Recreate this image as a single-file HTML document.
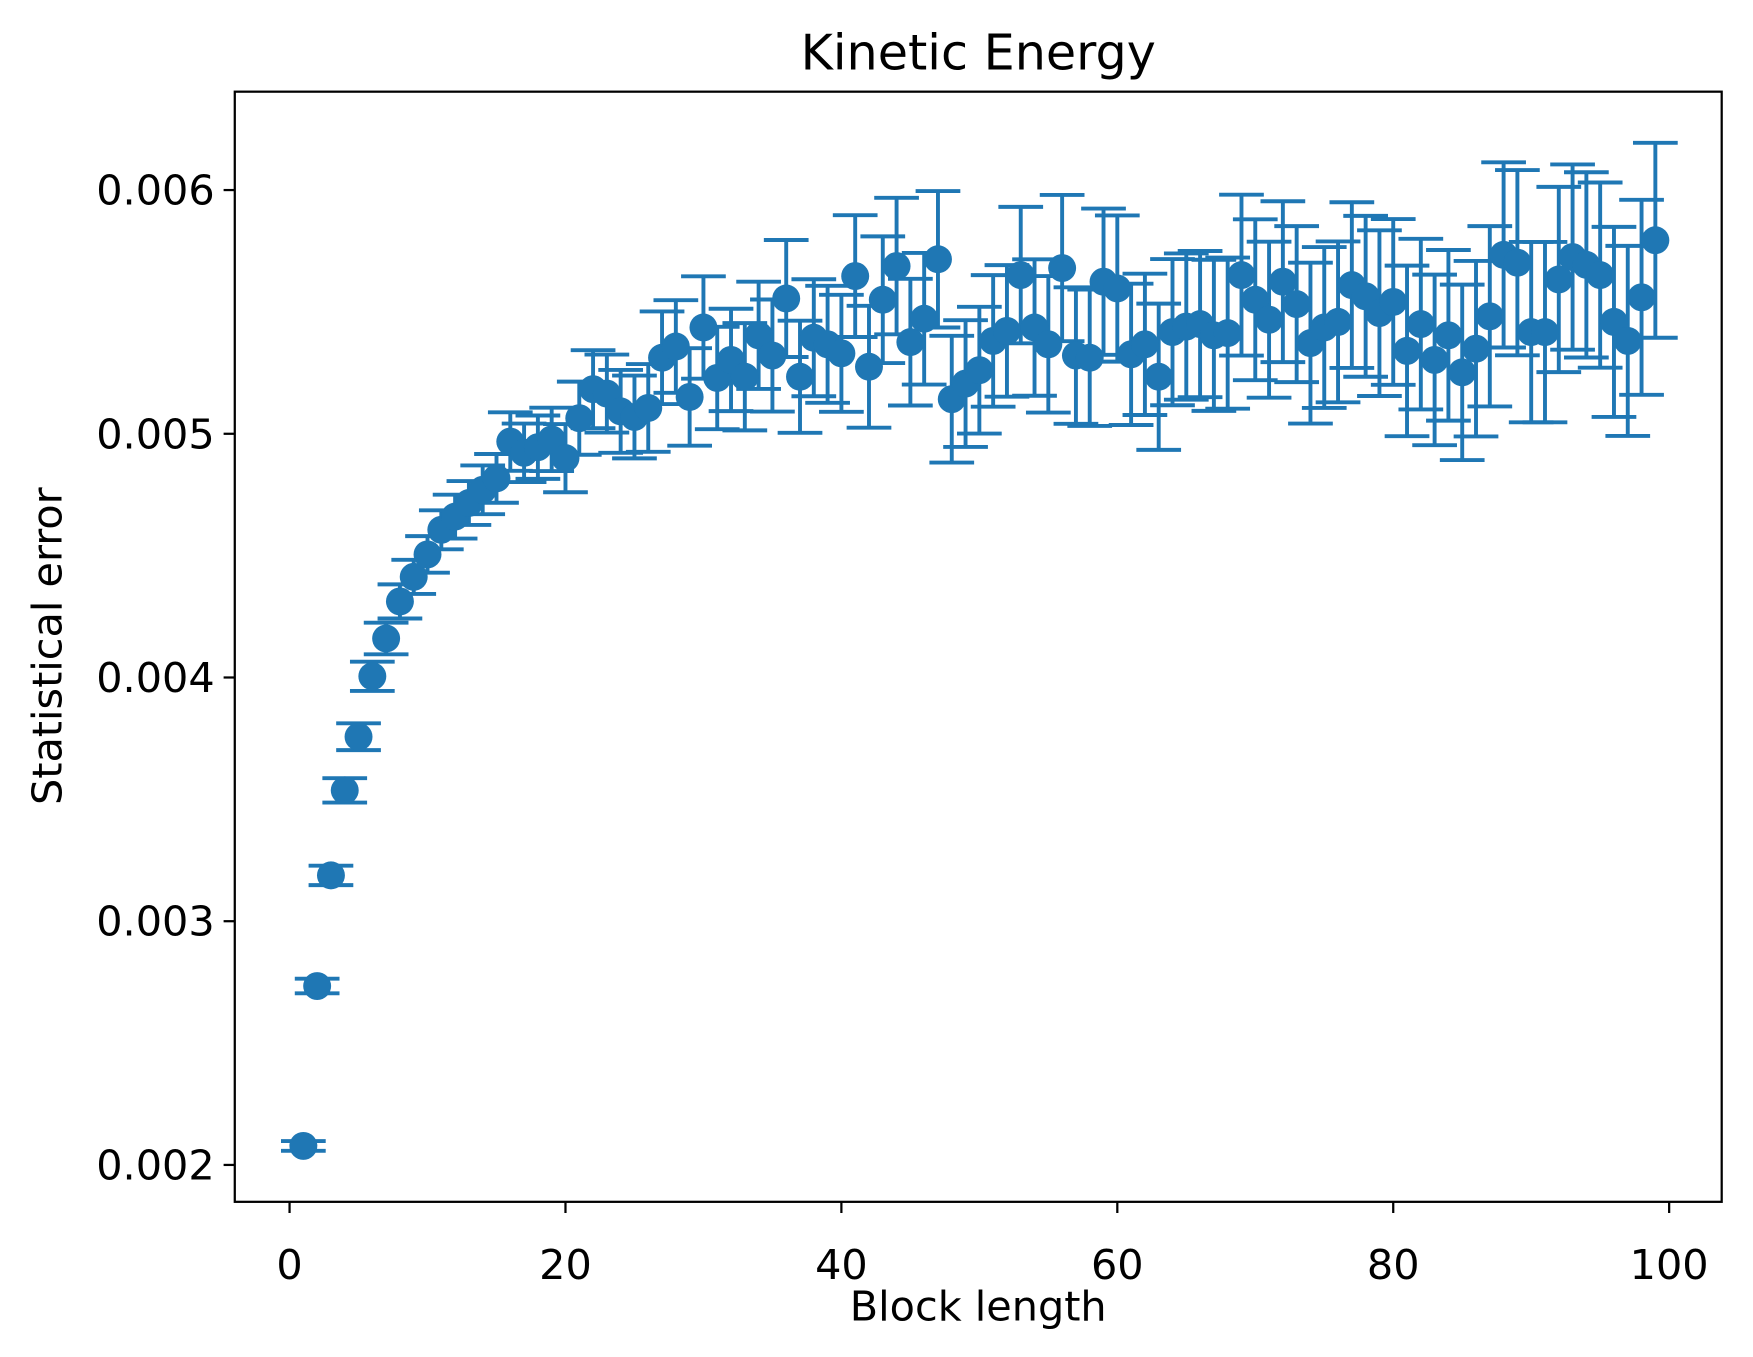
<!DOCTYPE html>
<html><head><meta charset="utf-8"><style>
html,body{margin:0;padding:0;background:#fff;}
svg{display:block;font-family:"DejaVu Sans","Liberation Sans",sans-serif;}
</style></head><body>
<svg id="chart" width="1753" height="1357" viewBox="0 0 1568 1213.8" preserveAspectRatio="none" xmlns="http://www.w3.org/2000/svg">
<rect width="1568" height="1214" fill="#fff"/>
<text x="875" y="62" text-anchor="middle" font-size="44">Kinetic Energy</text>
<text x="875" y="1181" text-anchor="middle" font-size="37">Block length</text>
<text transform="translate(55,578) rotate(-90)" text-anchor="middle" font-size="37">Statistical error</text>
<g id="marks"></g>
<g id="axes"></g>
</svg>
<script>
const blockLengths = Array.from({length:99},(_,i)=>i+1);
const errorValues = [0.002078,0.002734,0.003188,0.003537,0.003757,0.004005,0.00416,0.004312,0.004413,0.004505,
0.004606,0.00466,0.004716,0.00477,0.004817,0.004968,0.004922,0.004945,0.004977,0.0049,
0.005064,0.005183,0.005165,0.005092,0.005069,0.005106,0.005312,0.005358,0.005151,0.005436,
0.005229,0.005303,0.005234,0.005404,0.005321,0.005555,0.005234,0.005394,0.005367,0.00533,
0.005647,0.005275,0.00555,0.005688,0.005376,0.005472,0.005716,0.005142,0.005206,0.005261,
0.005381,0.005422,0.005651,0.005436,0.005367,0.00568,0.005321,0.005312,0.005624,0.005596,
0.005326,0.005367,0.005234,0.005417,0.00544,0.00545,0.005404,0.005413,0.005651,0.00555,
0.005468,0.005624,0.005532,0.005372,0.005436,0.005459,0.00561,0.005564,0.005495,0.005541,
0.00534,0.00545,0.005303,0.005404,0.005252,0.005349,0.005482,0.005734,0.005702,0.005417,
0.005417,0.005633,0.005725,0.005693,0.005651,0.005459,0.005381,0.00556,0.005794];
const errorBars = [0.00002,0.00003,0.00004,0.00005,0.000055,0.00006,0.000065,0.00007,0.00007,0.000075,
0.00008,0.00009,0.00009,0.0001,0.0001,0.00012,0.00012,0.00013,0.00013,0.00014,
0.00015,0.00016,0.00016,0.00017,0.00017,0.00018,0.00019,0.00019,0.0002,0.00021,
0.00021,0.00021,0.00022,0.00022,0.00023,0.00024,0.00023,0.00024,0.00024,0.00024,
0.00025,0.00025,0.00026,0.00028,0.00026,0.00027,0.00028,0.00026,0.00026,0.00026,
0.00027,0.00027,0.00028,0.00028,0.00028,0.0003,0.00028,0.00028,0.0003,0.0003,
0.00029,0.00029,0.0003,0.0003,0.0003,0.0003,0.00031,0.00031,0.00033,0.00033,
0.00032,0.00033,0.00032,0.00033,0.00033,0.00033,0.00034,0.00033,0.00034,0.00034,
0.00035,0.00035,0.00035,0.00035,0.00036,0.00036,0.00037,0.00038,0.00038,0.00037,
0.00037,0.00038,0.00038,0.00038,0.00038,0.00039,0.00039,0.0004,0.0004];
const xTicks = [0,20,40,60,80,100];
const yTicks = [0.002,0.003,0.004,0.005,0.006];
const yTickLabels = ["0.002","0.003","0.004","0.005","0.006"];

const NS="http://www.w3.org/2000/svg";
const L=210,R=1540,T=82,B=1075;
const xS=v=>259+(v-0)*(1493-259)/100;
const yS=v=>170+(0.006-v)*218000;
const C="#1f77b4";
const marks=document.getElementById('marks'), axes=document.getElementById('axes');
function mk(tag,attrs,parent){const e=document.createElementNS(NS,tag);for(const k in attrs)e.setAttribute(k,attrs[k]);parent.appendChild(e);return e;}
blockLengths.forEach((x,i)=>{
  const g=mk('g',{},marks);
  
  
  const cx=xS(x),lo=yS(errorValues[i]-errorBars[i]),hi=yS(errorValues[i]+errorBars[i]);
  mk('line',{x1:cx,x2:cx,y1:lo,y2:hi,stroke:C,'stroke-width':3.5},g);
  mk('line',{x1:cx-20,x2:cx+20,y1:lo,y2:lo,stroke:C,'stroke-width':3.5},g);
  mk('line',{x1:cx-20,x2:cx+20,y1:hi,y2:hi,stroke:C,'stroke-width':3.5},g);
});
blockLengths.forEach((x,i)=>{
  const c=mk('circle',{cx:xS(x),cy:yS(errorValues[i]),r:12.5,fill:C},marks);
  
  
});
const frame=mk('rect',{x:L,y:T,width:R-L,height:B-T,fill:'none',stroke:'#000','stroke-width':2},axes);


xTicks.forEach(v=>{
  const x=xS(v);
  const t=mk('line',{x1:x,x2:x,y1:B,y2:B+10,stroke:'#000','stroke-width':2},axes);
  
  
  const tx=mk('text',{x:x,y:B+69,'text-anchor':'middle','font-size':37},axes);
  tx.textContent=v;
  
  
});
yTicks.forEach((v,i)=>{
  const y=yS(v);
  const t=mk('line',{x1:L-10,x2:L,y1:y,y2:y,stroke:'#000','stroke-width':2},axes);
  
  
  const tx=mk('text',{x:L-18,y:y+13,'text-anchor':'end','font-size':37},axes);
  tx.textContent=yTickLabels[i];
  
  
});
</script>
</body></html>
